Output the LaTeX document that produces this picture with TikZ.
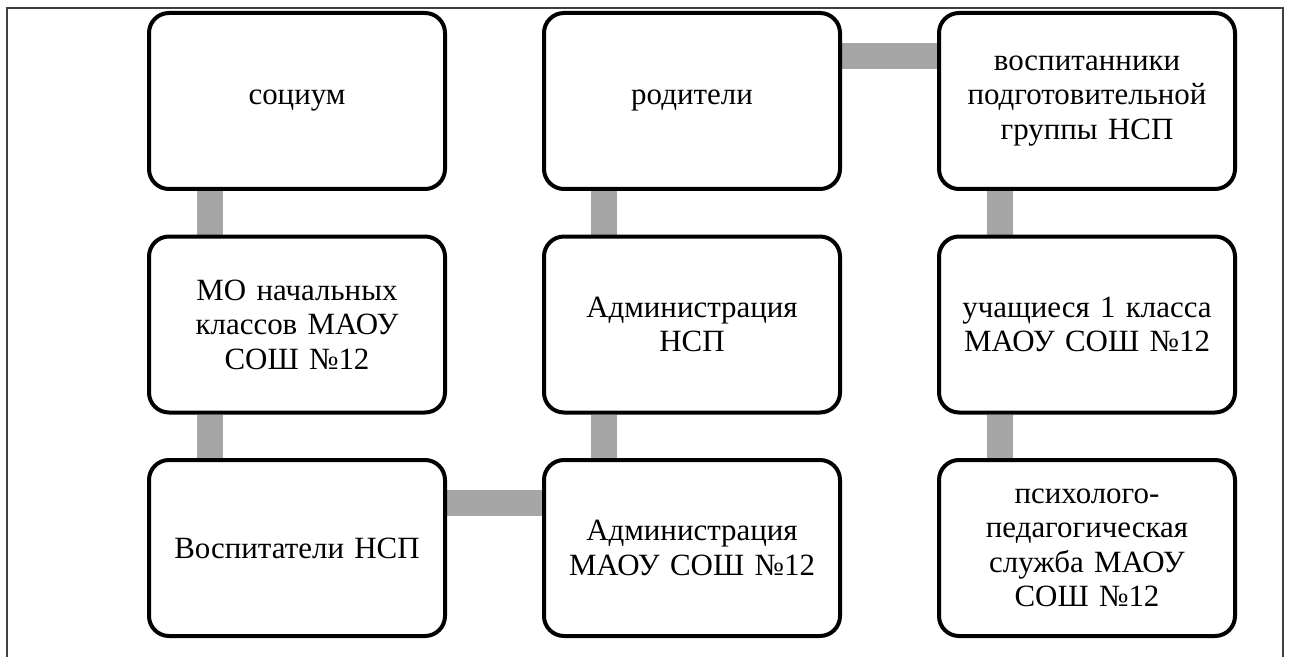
\documentclass[tikz,border=0pt]{standalone}
\usepackage{fontspec}
\setmainfont{Liberation Serif}
\usepackage{xcolor}
\usepackage{tikz}
\usetikzlibrary{positioning, backgrounds}

\definecolor{linkgray}{HTML}{A6A6A6}

\begin{document}
\begin{tikzpicture}[
    node distance=0.87cm and 1.9cm,
    box/.style={
        rectangle,
        rounded corners=0.4cm,
        draw=black,
        line width=0.08cm,
        fill=white,
        minimum width=5.92cm,
        minimum height=3.52cm,
        text width=5.6cm,
        align=center,
        font=\fontsize{17.6}{19.6}\selectfont
    },
    link/.style={
        draw=linkgray,
        line width=0.52cm
    },
    frame/.style={
        draw=black!75,
        line width=0.6pt
    }
]

% Page frame
\useasboundingbox (0,0) rectangle (25.78,-13.14);
\draw[frame] (0.14,-13.14) -- (0.14,-0.16) -- (25.66,-0.16) -- (25.66,-13.14);

% Nodes
\node[box] (socium) at (5.94,-2.02) {социум};
\node[box, below=of socium] (mo) {МО начальных\\классов МАОУ\\СОШ №12};
\node[box, below=of mo] (vospitateli) {Воспитатели НСП};
\node[box, right=of vospitateli] (admSchool) {Администрация\\МАОУ СОШ №12};
\node[box, above=of admSchool] (admNsp) {Администрация\\НСП};
\node[box, above=of admNsp] (parents) {родители};
\node[box, right=of parents] (pupils) {воспитанники\\подготовительной\\группы НСП};
\node[box, below=of pupils] (firstGrade) {учащиеся 1 класса\\МАОУ СОШ №12};
\node[box, below=of firstGrade] (psych) {психолого-\\педагогическая\\служба МАОУ\\СОШ №12};

% Links
\begin{scope}[on background layer]
\draw[link] ([xshift=-1.75cm]socium.south) -- ([xshift=-1.75cm]mo.north);
\draw[link] ([xshift=-1.75cm]mo.south) -- ([xshift=-1.75cm]vospitateli.north);
\draw[link] ([yshift=0.9cm]vospitateli.east) -- ([yshift=0.9cm]admSchool.west);
\draw[link] ([xshift=-1.77cm]admSchool.north) -- ([xshift=-1.77cm]admNsp.south);
\draw[link] ([xshift=-1.77cm]admNsp.north) -- ([xshift=-1.77cm]parents.south);
\draw[link] ([yshift=0.9cm]parents.east) -- ([yshift=0.9cm]pupils.west);
\draw[link] ([xshift=-1.75cm]pupils.south) -- ([xshift=-1.75cm]firstGrade.north);
\draw[link] ([xshift=-1.75cm]firstGrade.south) -- ([xshift=-1.75cm]psych.north);
\end{scope}
\end{tikzpicture}
\end{document}
